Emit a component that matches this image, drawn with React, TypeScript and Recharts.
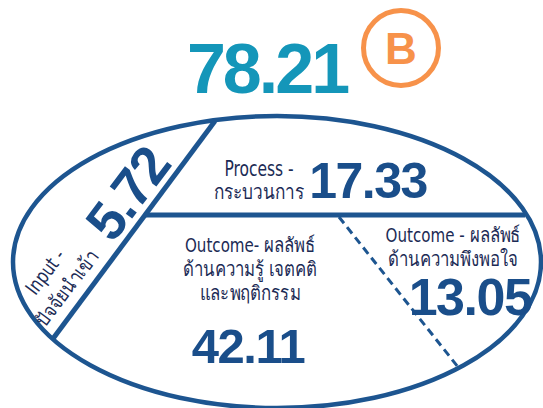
import { ScatterChart, Scatter, XAxis, YAxis, ReferenceLine, ReferenceDot } from "recharts"

// scores per evaluation part (CIPP-style oval)
const SEGMENTS = ["Input", "Process", "Outcome KAP", "Outcome Satisfaction"]
const SEGMENT_LABELS = [
  ["Input -", "ปัจจัยนำเข้า"],
  ["Process -", "กระบวนการ"],
  ["Outcome- ผลลัพธ์", "ด้านความรู้ เจตคติ", "และพฤติกรรม"],
  ["Outcome - ผลลัพธ์", "ด้านความพึงพอใจ"],
]
const SCORES = [5.72, 17.33, 42.11, 13.05]
const TOTAL_SCORE = 78.21
const GRADE = "B"

const W = 543
const H = 408

const LINE = "#1d5590"
const NUM = "#1a4e8a"
const LABEL = "#1c2b55"
const TEAL = "#1496b9"
const ORANGE = "#f7924a"

const NUM_FONT = "'Liberation Sans', Arial, sans-serif"
const LABEL_FONT = "'Liberation Sans Narrow', 'DejaVu Sans Condensed', 'Noto Sans', sans-serif"

// where each part sits inside the oval (value centre, label block offset, label font)
const SLOTS = [
  { x: 127, y: 193, rotate: -53, size: 54, ldx: -71, ldy: 87, lh: 27, lfs: 20, sx: 0.86 },
  { x: 368, y: 180, rotate: 0, size: 50, ldx: -109, ldy: 0, lh: 23, lfs: 21, sx: 0.82 },
  { x: 248, y: 345, rotate: 0, size: 49, ldx: 2, ldy: -76, lh: 24, lfs: 20, sx: 0.84 },
  { x: 470, y: 296, rotate: 0, size: 52, ldx: -17, ldy: -49, lh: 24, lfs: 20, sx: 0.84 },
]

const rows = SEGMENTS.map((name, i) => ({
  name,
  score: SCORES[i],
  lines: SEGMENT_LABELS[i],
  x: SLOTS[i].x,
  y: SLOTS[i].y,
  slot: i,
}))

const SegmentMark = (props: any) => {
  const { cx, cy, payload } = props
  const s = SLOTS[payload.slot]
  const n = payload.lines.length
  return (
    <g>
      <g transform={`translate(${cx},${cy}) rotate(${s.rotate})`}>
        <text
          x={0}
          y={s.size * 0.36}
          textAnchor="middle"
          fontFamily={NUM_FONT}
          fontWeight="bold"
          fontSize={s.size}
          letterSpacing={-1.5}
          fill={NUM}
        >
          {payload.score.toFixed(2)}
        </text>
      </g>
      <g transform={`translate(${cx + s.ldx},${cy + s.ldy}) rotate(${s.rotate}) scale(${s.sx},1)`}>
        {payload.lines.map((t: string, k: number) => (
          <text
            key={k}
            x={0}
            y={(k - (n - 1) / 2) * s.lh + s.lfs * 0.35}
            textAnchor="middle"
            fontFamily={LABEL_FONT}
            fontSize={s.lfs}
            fill={LABEL}
          >
            {t}
          </text>
        ))}
      </g>
    </g>
  )
}

export default function App() {
  return (
    <div style={{ position: "absolute", left: 0, top: 0, width: W, height: H, background: "#fff" }}>
      <ScatterChart width={W} height={H} margin={{ top: 0, right: 0, bottom: 0, left: 0 }}>
        <XAxis type="number" dataKey="x" domain={[0, W]} allowDataOverflow hide />
        <YAxis type="number" dataKey="y" domain={[0, H]} allowDataOverflow reversed hide />

        <ReferenceDot
          x={277}
          y={262}
          r={1}
          shape={(p: any) => (
            <ellipse
              cx={p.cx}
              cy={p.cy}
              rx={264}
              ry={146}
              fill="none"
              stroke={LINE}
              strokeWidth={4.5}
            />
          )}
        />
        <ReferenceLine segment={[{ x: 215, y: 121 }, { x: 52, y: 340 }]} stroke={LINE} strokeWidth={5} />
        <ReferenceLine segment={[{ x: 146, y: 215 }, { x: 525, y: 215 }]} stroke={LINE} strokeWidth={5} />
        <ReferenceLine
          segment={[{ x: 339, y: 217 }, { x: 458, y: 367 }]}
          stroke={LINE}
          strokeWidth={3}
          strokeDasharray="8 5"
        />

        <ReferenceDot
          x={267}
          y={93}
          r={1}
          shape={(p: any) => (
            <text
              x={p.cx}
              y={p.cy}
              textAnchor="middle"
              fontFamily={NUM_FONT}
              fontWeight="bold"
              fontSize={70}
              letterSpacing={-3}
              fill={TEAL}
            >
              {TOTAL_SCORE.toFixed(2)}
            </text>
          )}
        />
        <ReferenceDot
          x={401}
          y={48}
          r={1}
          shape={(p: any) => (
            <g>
              <circle cx={p.cx} cy={p.cy} r={37.5} fill="none" stroke={ORANGE} strokeWidth={5} />
              <text
                x={p.cx}
                y={p.cy + 16}
                textAnchor="middle"
                fontFamily={NUM_FONT}
                fontWeight="bold"
                fontSize={44}
                fill={ORANGE}
              >
                {GRADE}
              </text>
            </g>
          )}
        />

        <Scatter data={rows} isAnimationActive={false} shape={SegmentMark} />
      </ScatterChart>
    </div>
  )
}
